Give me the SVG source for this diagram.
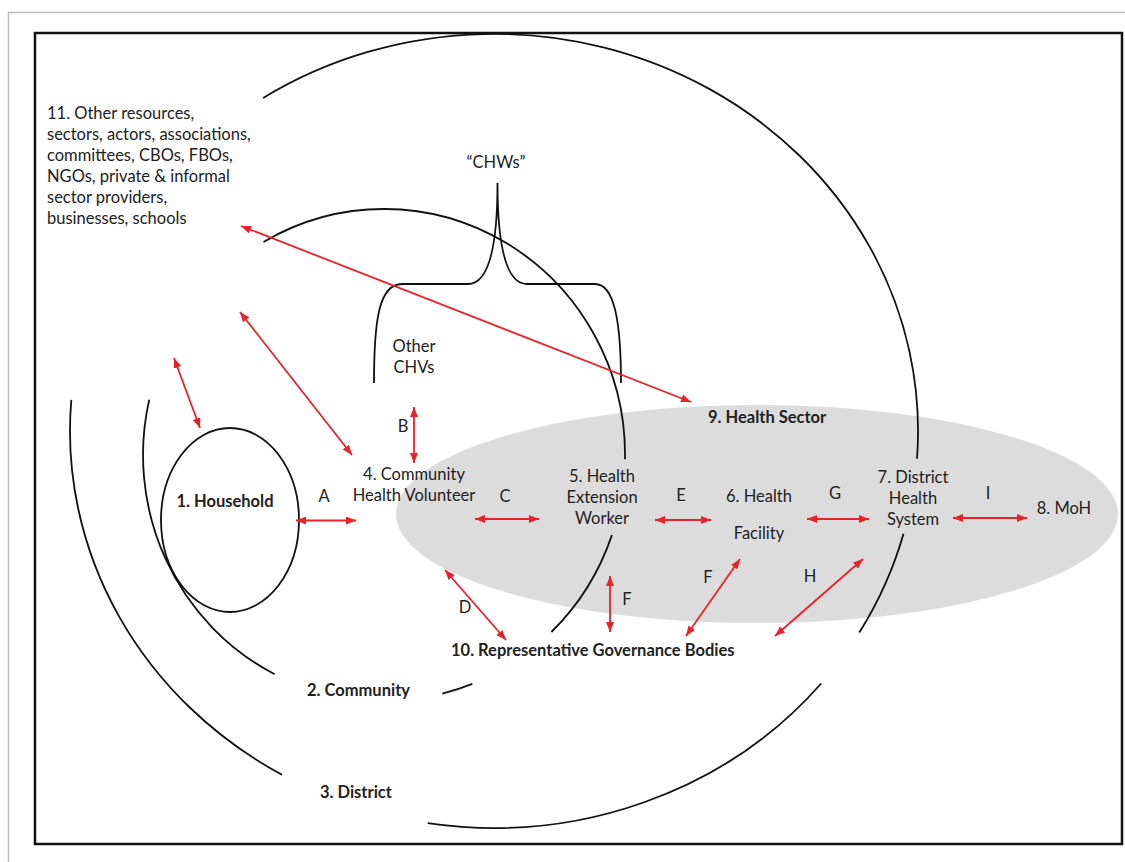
<svg xmlns="http://www.w3.org/2000/svg" width="1125" height="862" viewBox="0 0 1125 862">
<style>
  .t { font-family: Lato, "Open Sans", "Liberation Sans", sans-serif; font-size: 16.5px; fill: #222; }
  .b { font-weight: bold; }
  .m { text-anchor: middle; }
  .arc { fill: none; stroke: #111; stroke-width: 1.8; }
  .arr { fill: none; stroke: #e8212b; stroke-width: 1.8; marker-start: url(#ah); marker-end: url(#ah); }
</style>
<defs>
  <marker id="ah" viewBox="0 0 10 8" refX="10" refY="4" markerWidth="10" markerHeight="8" markerUnits="userSpaceOnUse" orient="auto-start-reverse">
    <path d="M0,0 L10,4 L0,8 z" fill="#e8212b"/>
  </marker>
</defs>
<rect x="0" y="0" width="1125" height="862" fill="#fff"/>
<rect x="8.5" y="12.5" width="1200" height="1000" fill="none" stroke="#bdbdbd" stroke-width="1.5"/>
<rect x="35" y="33" width="1087" height="811" fill="none" stroke="#111" stroke-width="2.5"/>

<g id="health-sector">
  <ellipse cx="757" cy="514" rx="361" ry="109" fill="#dcdcdc"/>
  <text class="t b" x="708" y="423">9. Health Sector</text>
</g>

<g id="district">
  <path class="arc" d="M263.1,98 A424,397 0 0 1 917,458.7"/>
  <path class="arc" d="M903.5,533.7 A424,397 0 0 1 859.3,632.5"/>
  <path class="arc" d="M821.2,683.5 A424,397 0 0 1 427.7,823.1"/>
  <path class="arc" d="M71.3,399.8 A424,397 0 0 0 282,774.8"/>
  <text class="t b" x="320" y="798">3. District</text>
</g>

<g id="community">
  <path class="arc" d="M263.5,242 A241,246 0 0 1 625,459.3"/>
  <path class="arc" d="M611.9,535.1 A241,246 0 0 1 551.4,632"/>
  <path class="arc" d="M442.3,693.7 A241,246 0 0 0 472.3,683.9"/>
  <path class="arc" d="M149.2,399.7 A241,246 0 0 0 274.6,674.2"/>
  <text class="t b" x="307" y="696">2. Community</text>
</g>

<g id="household">
  <ellipse cx="230" cy="520" rx="69" ry="92" fill="none" stroke="#111" stroke-width="1.8"/>
  <text class="t b m" x="225" y="507">1. Household</text>
</g>

<g id="other-resources">
  <text class="t" x="47" y="119">11. Other resources,</text>
  <text class="t" x="47" y="140">sectors, actors, associations,</text>
  <text class="t" x="47" y="161">committees, CBOs, FBOs,</text>
  <text class="t" x="47" y="182">NGOs, private &amp; informal</text>
  <text class="t" x="47" y="203">sector providers,</text>
  <text class="t" x="47" y="224">businesses, schools</text>
</g>

<g id="chws">
  <path class="arc" d="M374,383 C374,320 379,284 402,284 L468,284 C488,284 497.5,250 497.5,183 C497.5,250 507,284 527,284 L595,284 C614,284 621,320 621,383"/>
  <text class="t m" x="496" y="168">“CHWs”</text>
</g>

<g id="other-chvs">
  <text class="t m" x="414" y="352">Other</text>
  <text class="t m" x="414" y="373">CHVs</text>
</g>

<g id="chv">
  <text class="t m" x="414" y="480">4. Community</text>
  <text class="t m" x="414" y="501">Health Volunteer</text>
</g>

<g id="hew">
  <text class="t m" x="602" y="482">5. Health</text>
  <text class="t m" x="602" y="503">Extension</text>
  <text class="t m" x="602" y="524">Worker</text>
</g>

<g id="facility">
  <text class="t m" x="759" y="502">6. Health</text>
  <text class="t m" x="759" y="539">Facility</text>
</g>

<g id="district-health-system">
  <text class="t m" x="913" y="483">7. District</text>
  <text class="t m" x="913" y="504">Health</text>
  <text class="t m" x="913" y="525">System</text>
</g>

<g id="moh">
  <text class="t m" x="1064" y="514">8. MoH</text>
</g>

<g id="governance">
  <text class="t b" x="451" y="656">10. Representative Governance Bodies</text>
</g>

<g id="connectors">
  <line class="arr" x1="241" y1="226" x2="691" y2="402"/>
  <line class="arr" x1="240" y1="312" x2="352" y2="455"/>
  <line class="arr" x1="174" y1="358" x2="200" y2="428"/>
  <line class="arr" x1="414" y1="407" x2="414" y2="463"/>
  <line class="arr" x1="296" y1="520.5" x2="356" y2="520.5"/>
  <line class="arr" x1="475" y1="519" x2="539" y2="519"/>
  <line class="arr" x1="445" y1="570" x2="506" y2="640"/>
  <line class="arr" x1="655" y1="520" x2="711" y2="520"/>
  <line class="arr" x1="807" y1="519" x2="869" y2="519"/>
  <line class="arr" x1="953" y1="518" x2="1027" y2="518"/>
  <line class="arr" x1="610" y1="576" x2="610" y2="632"/>
  <line class="arr" x1="740" y1="559" x2="686" y2="636"/>
  <line class="arr" x1="863" y1="559" x2="775" y2="636"/>
  <text class="t m" x="403" y="432">B</text>
  <text class="t m" x="324" y="502">A</text>
  <text class="t m" x="505" y="502">C</text>
  <text class="t m" x="465" y="613">D</text>
  <text class="t m" x="681" y="501">E</text>
  <text class="t m" x="835" y="499">G</text>
  <text class="t m" x="988" y="499">I</text>
  <text class="t m" x="627" y="605">F</text>
  <text class="t m" x="708" y="583">F</text>
  <text class="t m" x="810" y="582">H</text>
</g>
</svg>
